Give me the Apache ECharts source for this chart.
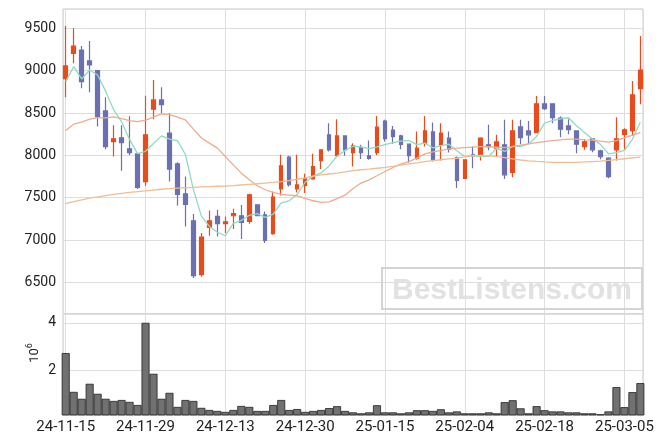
<!DOCTYPE html>
<html><head><meta charset="utf-8">
<script src="https://cdn.jsdelivr.net/npm/echarts@6/dist/echarts.min.js"></script>
<style>html,body{margin:0;padding:0;background:#fff}#c{width:663px;height:444px}</style>
</head><body><div id="c"></div>
<script>
const dates = ['24-11-15','24-11-18','24-11-19','24-11-20','24-11-21','24-11-22','24-11-25','24-11-26','24-11-27','24-11-28',
'24-11-29','24-12-02','24-12-03','24-12-04','24-12-05','24-12-06','24-12-09','24-12-10','24-12-11','24-12-12',
'24-12-13','24-12-16','24-12-17','24-12-18','24-12-19','24-12-20','24-12-23','24-12-24','24-12-26','24-12-27',
'24-12-30','25-01-02','25-01-03','25-01-06','25-01-07','25-01-08','25-01-09','25-01-10','25-01-13','25-01-14',
'25-01-15','25-01-16','25-01-17','25-01-20','25-01-21','25-01-22','25-01-23','25-01-24','25-01-31','25-02-03',
'25-02-04','25-02-05','25-02-06','25-02-07','25-02-10','25-02-11','25-02-12','25-02-13','25-02-14','25-02-17',
'25-02-18','25-02-19','25-02-20','25-02-21','25-02-24','25-02-25','25-02-26','25-02-27','25-02-28','25-03-04',
'25-03-05','25-03-06','25-03-07'];

const opens  = [8906,9205,9244,9115,9000,8525,8163,8207,8077,8018,
7691,8545,8655,8262,7900,7546,7228,6591,7149,7279,
7193,7287,7287,7220,7417,7299,7075,7605,7979,7605,
7644,7723,7939,8242,7998,8230,8033,8092,7994,8033,
8404,8297,8230,8132,7963,8144,8277,8121,8203,7974,
7727,8005,7994,8124,8085,8124,7798,8336,8289,8269,
8608,8608,8439,8348,8289,8104,8195,8053,7967,8065,
8246,8293,8788];
const closes = [9056,9291,8870,9067,8458,8104,8195,8151,8033,7621,
8242,8655,8599,7838,7538,7420,6580,7036,7228,7193,
7216,7311,7208,7535,7287,6996,7507,7877,7653,7653,
7723,7868,8065,8065,8230,8065,8112,8033,7963,8333,
8198,8222,8128,7998,8085,8289,7947,8262,8073,7703,
7947,7995,8203,8104,8160,7770,8289,8210,8242,8608,
8552,8446,8309,8305,8132,8160,8065,7986,7750,8195,
8301,8714,9008];
const lows   = [8687,9087,8793,8745,8340,8073,7986,7818,8003,7602,
7641,8427,8498,7691,7408,7161,6553,6571,7051,7043,
7083,7130,7012,7193,7280,6965,7063,7526,7633,7562,
7555,7711,7838,8045,7986,7994,7868,7956,7947,8003,
8163,8136,8073,7915,7947,8104,7927,7939,8033,7614,
7720,7849,7939,8060,7986,7720,7743,8132,8136,8262,
8537,8380,8215,8250,8026,8065,8038,7955,7731,7939,
8065,8230,8604];
const highs  = [9527,9500,9291,9350,9008,8687,8356,8356,8462,8030,
8705,8890,8804,8498,7920,7750,7307,7083,7350,7358,
7279,7370,7413,7546,7420,7338,7574,8006,7994,8006,
7782,8018,8073,8380,8427,8230,8144,8124,8175,8466,
8420,8348,8242,8132,8281,8466,8387,8380,8281,7986,
7955,8104,8215,8360,8242,8419,8419,8419,8407,8702,
8702,8608,8458,8427,8289,8191,8203,8065,7979,8451,
8321,8879,9409];

// volume in units of 10^6
const volumes = [2.73,1.10,0.81,1.44,1.02,0.81,0.72,0.76,0.68,0.55,
4.00,1.86,0.81,1.06,0.47,0.76,0.72,0.43,0.34,0.30,
0.26,0.34,0.51,0.47,0.30,0.30,0.55,0.76,0.34,0.38,
0.26,0.30,0.34,0.42,0.50,0.30,0.24,0.20,0.24,0.54,
0.24,0.24,0.20,0.24,0.33,0.33,0.30,0.37,0.24,0.28,
0.20,0.20,0.20,0.24,0.20,0.67,0.75,0.41,0.20,0.50,
0.33,0.28,0.28,0.24,0.24,0.20,0.20,0.16,0.28,1.30,
0.46,1.09,1.47];

// short moving average: first values, rest = 5-day mean of closes
const ma5Head = [8870,9047,8902,9008];
const ma20 = [8293,8368,8392,8427,8442,8442,8454,8434,8411,8399,
8415,8451,8490,8482,8451,8419,8310,8205,8145,8085,
7986,7888,7790,7711,7641,7594,7562,7538,7531,7523,
7491,7464,7444,7452,7490,7530,7608,7673,7711,7759,
7809,7857,7900,7927,7967,8018,8042,8057,8077,8085,
8092,8097,8102,8102,8096,8092,8104,8120,8136,8151,
8163,8175,8183,8191,8191,8183,8179,8167,8156,8175,
8207,8238,8269];
const ma60 = [7430,7455,7475,7495,7510,7525,7540,7552,7562,7572,
7580,7590,7600,7607,7613,7618,7622,7627,7631,7635,
7638,7642,7650,7658,7665,7673,7680,7690,7702,7718,
7735,7755,7770,7780,7790,7805,7820,7830,7838,7848,
7858,7870,7885,7900,7912,7925,7938,7948,7958,7966,
7985,7995,8000,7995,7985,7972,7958,7945,7935,7928,
7922,7918,7917,7917,7918,7922,7927,7932,7940,7950,
7960,7970,7980];

const UP = '#e84c1c', DOWN = '#6b70b2';
const GRIDC = '#dedede', BORDER = '#c8c8c8', TXT = '#222';

const ma5 = closes.map((c, i) => {
  if (i < 4) return ma5Head[i];
  let s = 0; for (let k = i - 4; k <= i; k++) s += closes[k];
  return s / 5;
});

const candleData = dates.map((d, i) => [i, opens[i], closes[i], lows[i], highs[i]]);
const volData = volumes.map((v, i) => [i, v]);
const lineData = arr => arr.map((v, i) => [i, v]);
const plain = v => String(Math.round(v));

const xCommon = {
  type: 'value', min: -0.34, max: 72.33, splitNumber: 7,
  axisLine: {show: false}, axisTick: {show: false},
  splitLine: {show: true, lineStyle: {color: GRIDC, width: 1}}
};

const chart = echarts.init(document.getElementById('c'), null, {renderer: 'canvas'});
chart.setOption({
  animation: false,
  backgroundColor: '#fff',
  grid: [
    {left: 63, top: 9, width: 580, height: 305, show: true, borderColor: BORDER, borderWidth: 1},
    {left: 63, top: 314, width: 580, height: 101, show: true, borderColor: BORDER, borderWidth: 1}
  ],
  xAxis: [
    Object.assign({}, xCommon, {gridIndex: 0, axisLabel: {show: false}}),
    Object.assign({}, xCommon, {gridIndex: 1, axisLabel: {
      show: true, showMinLabel: false, showMaxLabel: false, margin: 5,
      fontFamily: 'Roboto', fontSize: 15, color: TXT,
      formatter: v => { const r = Math.round(v); return Math.abs(r - v) < 1e-6 && dates[r] ? dates[r] : ''; }
    }})
  ],
  yAxis: [
    {type: 'value', gridIndex: 0, min: 6127, max: 9728, splitNumber: 7, scale: true,
     axisLine: {show: false}, axisTick: {show: false},
     splitLine: {lineStyle: {color: GRIDC, width: 1}},
     axisLabel: {showMinLabel: false, showMaxLabel: false, margin: 7, fontFamily: 'Roboto', fontSize: 14, color: TXT, formatter: plain}},
    {type: 'value', gridIndex: 1, min: 0.13, max: 4.37, splitNumber: 2, scale: true,
     axisLine: {show: false}, axisTick: {show: false},
     splitLine: {lineStyle: {color: GRIDC, width: 1}},
     axisLabel: {showMinLabel: false, showMaxLabel: false, margin: 7, fontFamily: 'Roboto', fontSize: 14, color: TXT, formatter: plain}}
  ],
  series: [
    {type: 'candlestick', xAxisIndex: 0, yAxisIndex: 0, data: candleData,
     encode: {x: 0, y: [1, 2, 3, 4]}, barWidth: 4, z: 3,
     itemStyle: {color: UP, color0: DOWN, borderColor: UP, borderColor0: DOWN, borderWidth: 1.2}},
    {type: 'line', xAxisIndex: 0, yAxisIndex: 0, data: lineData(ma5), showSymbol: false, z: 4,
     lineStyle: {color: '#8fdcc0', width: 1.3}},
    {type: 'line', xAxisIndex: 0, yAxisIndex: 0, data: lineData(ma20), showSymbol: false, z: 4,
     lineStyle: {color: '#f0ab8f', width: 1.3}},
    {type: 'line', xAxisIndex: 0, yAxisIndex: 0, data: lineData(ma60), showSymbol: false, z: 4,
     lineStyle: {color: '#f1bd92', width: 1.3}},
    {type: 'bar', xAxisIndex: 1, yAxisIndex: 1, data: volData, barWidth: 8, z: 3,
     itemStyle: {color: '#717171', borderColor: '#222', borderWidth: 0.8}}
  ],
  graphic: [
    {type: 'text', x: 33, y: 353, rotation: Math.PI / 2, z: 10,
     style: {text: '{a|10}{b|6}', align: 'center', verticalAlign: 'middle',
       rich: {a: {fontSize: 13, fontFamily: 'Roboto', fill: TXT, verticalAlign: 'bottom', lineHeight: 16},
              b: {fontSize: 9, fontFamily: 'Roboto', fill: TXT, verticalAlign: 'top', lineHeight: 16}}}},
    {type: 'rect', z: 20, shape: {x: 382, y: 268, width: 260, height: 41},
     style: {fill: 'none', stroke: '#d4d4d4', lineWidth: 2}},
    {type: 'text', z: 20, x: 512, y: 291,
     style: {text: 'BestListens.com', font: 'bold 30px "Liberation Sans"', fill: '#e2e2e2',
       align: 'center', verticalAlign: 'middle'}}
  ]
});
</script></body></html>
